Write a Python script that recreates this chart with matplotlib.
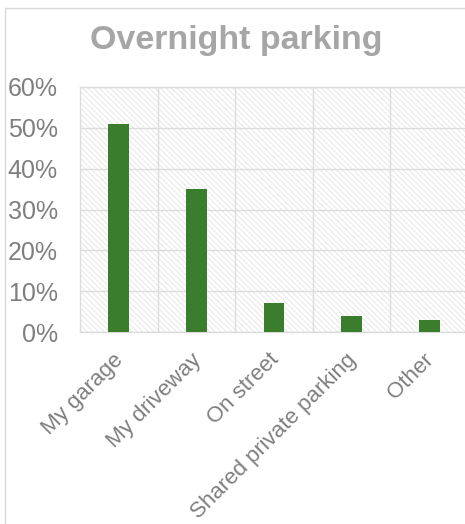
import matplotlib
matplotlib.use('Agg')
import matplotlib.pyplot as plt
from matplotlib.patches import Rectangle
from matplotlib.ticker import FuncFormatter
from matplotlib.transforms import ScaledTranslation

# data
categories = ['My garage', 'My driveway', 'On street', 'Shared private parking', 'Other']
shares = [51, 35, 7, 4, 3]
y_ticks = [0, 10, 20, 30, 40, 50, 60]

plt.rcParams['font.family'] = ['Liberation Sans', 'DejaVu Sans']
plt.rcParams['hatch.linewidth'] = 0.6

fig = plt.figure(figsize=(4.65, 5.24), dpi=100)

# outer chart frame
fig.patches.append(Rectangle((5 / 465, -0.1), 1.2, 1 - 8 / 524 + 0.1,
                             transform=fig.transFigure, fill=False,
                             edgecolor='#d9d9d9', linewidth=1.0))

ax = fig.add_axes([80 / 465, 192 / 524, 388 / 465, 245 / 524])

# hatched background
ax.add_patch(Rectangle((0, 0), 1, 1, transform=ax.transAxes, facecolor='white',
                       edgecolor='#e3e3e3', hatch='\\\\\\\\\\\\', linewidth=0, zorder=0))

x = range(len(categories))
ax.bar(x, shares, width=0.27, color='#3a7d2c', zorder=3)

ax.set_xlim(-0.5, len(categories) - 0.5)
ax.set_ylim(0, 60)
ax.set_yticks(y_ticks)
ax.yaxis.set_major_formatter(FuncFormatter(lambda v, p: '%d%%' % v))

# grid: horizontal at ticks, vertical between categories
ax.grid(axis='y', color='#dcdcdc', linewidth=1.0, zorder=1)
ax.set_xticks([i + 0.5 for i in x], minor=True)
ax.grid(axis='x', which='minor', color='#dcdcdc', linewidth=1.0, zorder=1)
ax.set_axisbelow(True)

ax.set_xticks(list(x))
ax.set_xticklabels(categories, rotation=45, ha='right', rotation_mode='anchor',
                   fontsize=16, color='#7f7f7f')
ax.tick_params(axis='x', which='both', length=0, pad=6)
ax.tick_params(axis='y', length=0, labelsize=18, labelcolor='#7f7f7f', pad=16)

# nudge the slanted labels down/left a little
shift = ScaledTranslation(-0.06, -0.09, fig.dpi_scale_trans)
for lab in ax.get_xticklabels():
    lab.set_transform(lab.get_transform() + shift)

for s in ax.spines.values():
    s.set_color('#dcdcdc')
    s.set_linewidth(1.0)

fig.text(236 / 465, 1 - 41 / 524, 'Overnight parking', ha='center', va='center',
         fontsize=24.5, fontweight='bold', color='#a6a6a6')

fig.savefig('out.png', dpi=100)
